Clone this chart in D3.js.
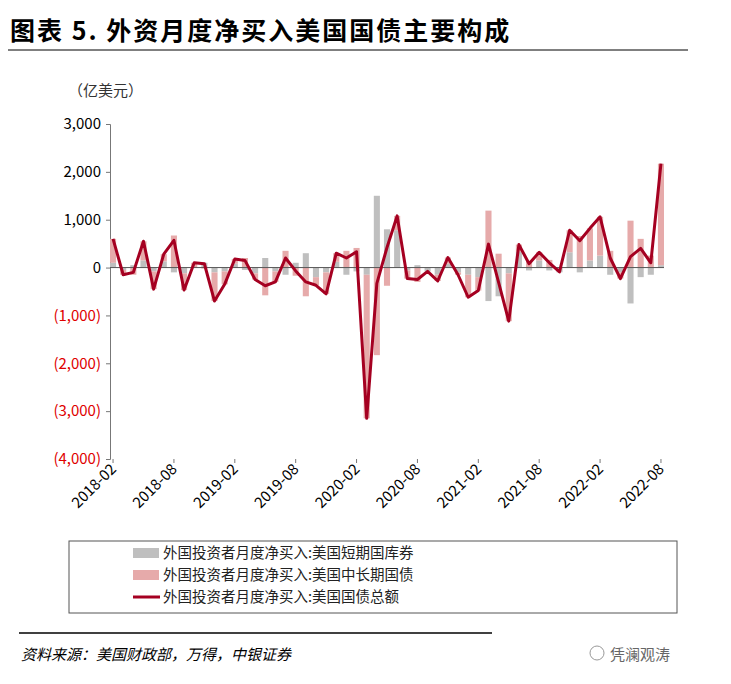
<!DOCTYPE html>
<html>
<head>
<meta charset="utf-8">
<script src="https://cdn.jsdelivr.net/npm/d3@7"></script>
<style>
  body { margin: 0; background: #fff; }
  text { font-family: "Noto Sans CJK SC", "Liberation Serif", serif; }
</style>
</head>
<body>
<svg id="chart" width="731" height="684"></svg>
<script>
// months 2018-02 .. 2022-08
const months = d3.range(55).map(i => {
  const m = 1 + i, y = 2018 + Math.floor(m / 12), mo = (m % 12) + 1;
  return y + '-' + String(mo).padStart(2, '0');
});
const tickLabels = ['2018-02', '2018-08', '2019-02', '2019-08', '2020-02', '2020-08',
  '2021-02', '2021-08', '2022-02', '2022-08'];

// short-term bills (gray)
const shortTerm = [100, -50, 50, 150, -80, 130, -100, -120, 0, 100, -100, -80, 80, -50, -120, 200,
  -80, -150, 100, 300, -200, -100, 120, -150, -80, -150, 1500, 800, 780, -60, 50, -80, -150, 80,
  -100, -150, -200, -700, -600, -120, 330, -60, 150, -60, -100, 320, -100, 150, 250, -150, -100,
  -750, -200, -150, 50];
// long-term notes & bonds (pink)
const longTerm = [500, -100, -150, 400, -370, 150, 670, -350, 100, -20, -600, -270, 100, 200, -130,
  -580, -220, 350, -170, -600, -170, -450, 180, 350, 410, -3000, -1830, -380, 300, -170, -300, 0,
  -130, 130, -50, -470, -280, 1190, 290, -1000, 150, 140, 170, 160, 10, 460, 660, 670, 810, 350,
  -130, 980, 600, 250, 2120];
// total
const total = [600, -150, -100, 550, -450, 280, 570, -470, 100, 80, -700, -350, 180, 150, -250, -380,
  -300, 200, -70, -300, -370, -550, 300, 200, 330, -3150, -330, 420, 1080, -230, -250, -80, -280,
  210, -150, -620, -480, 490, -310, -1120, 480, 80, 320, 100, -90, 780, 560, 820, 1060, 200, -230,
  230, 400, 100, 2170];

const yTicks = [3000, 2000, 1000, 0, -1000, -2000, -3000, -4000];
const legendItems = ['外国投资者月度净买入:美国短期国库券', '外国投资者月度净买入:美国中长期国债',
  '外国投资者月度净买入:美国国债总额'];

const svg = d3.select('#chart');
const red = '#a50021', gray = '#bfbfbf', pink = '#e6aaaa';

svg.append('text').attr('x', 10).attr('y', 40)
  .attr('font-size', 25).attr('font-weight', 'bold').attr('letter-spacing', 2)
  .text('图表 5. 外资月度净买入美国国债主要构成');
svg.append('line').attr('x1', 8).attr('x2', 688).attr('y1', 50).attr('y2', 50)
  .attr('stroke', '#000').attr('stroke-width', 1);
svg.append('text').attr('x', 68).attr('y', 96).attr('font-size', 15).attr('fill', '#333')
  .text('（亿美元）');

const x = d3.scaleBand().domain(months).range([110, 664]).paddingInner(0.4);
const y = d3.scaleLinear().domain([-4000, 3000]).range([459, 124]);
const cx = d => x(d) + x.bandwidth() / 2;

// y axis
const yAxis = svg.append('g').attr('transform', 'translate(110,0)')
  .call(d3.axisLeft(y).tickValues(yTicks).tickSize(4)
    .tickFormat(v => v < 0 ? '(' + d3.format(',')(-v) + ')' : d3.format(',')(v)));
yAxis.select('.domain').attr('stroke', '#777');
yAxis.selectAll('.tick line').attr('stroke', '#777');
yAxis.selectAll('.tick text').attr('font-size', 15).attr('font-family', 'Liberation Sans, Arial')
  .attr('x', -9).attr('fill', v => v < 0 ? '#e00000' : '#000');

// stacked bars
const bars = svg.append('g');
months.forEach((m, i) => {
  let pos = 0, neg = 0;
  [[shortTerm[i], gray], [longTerm[i], pink]].forEach(([v, c]) => {
    let y0;
    if (v >= 0) { y0 = pos; pos += v; } else { y0 = neg; neg += v; }
    const y1 = y0 + v;
    bars.append('rect').attr('x', x(m)).attr('width', x.bandwidth())
      .attr('y', y(Math.max(y0, y1))).attr('height', Math.abs(y(y0) - y(y1))).attr('fill', c);
  });
});

// zero line
svg.append('line').attr('x1', 110).attr('x2', 664).attr('y1', y(0)).attr('y2', y(0))
  .attr('stroke', '#555').attr('stroke-width', 1);

// total line
svg.append('path').datum(total)
  .attr('d', d3.line().x((d, i) => cx(months[i])).y(d => y(d)))
  .attr('fill', 'none').attr('stroke', red).attr('stroke-width', 3).attr('stroke-linejoin', 'round');

// x labels
const xl = svg.append('g');
tickLabels.forEach(t => {
  const px = cx(t);
  xl.append('line').attr('x1', px).attr('x2', px).attr('y1', 459).attr('y2', 463).attr('stroke', '#777');
  xl.append('text').attr('transform', `translate(${px + 4},${470}) rotate(-45)`)
    .attr('text-anchor', 'end').attr('font-size', 15).attr('font-family', 'Liberation Sans, Arial')
    .text(t);
});

// legend
svg.append('rect').attr('x', 69).attr('y', 541).attr('width', 608).attr('height', 72)
  .attr('fill', 'none').attr('stroke', '#555');
legendItems.forEach((t, i) => {
  const ly = 553 + i * 22;
  if (i < 2) svg.append('rect').attr('x', 133).attr('y', ly - 5).attr('width', 26).attr('height', 10)
    .attr('fill', i === 0 ? gray : pink);
  else svg.append('line').attr('x1', 133).attr('x2', 160).attr('y1', ly).attr('y2', ly)
    .attr('stroke', red).attr('stroke-width', 3);
  svg.append('text').attr('x', 163).attr('y', ly + 5).attr('font-size', 14.5).attr('fill', '#222')
    .text(t);
});

// source
svg.append('line').attr('x1', 19).attr('x2', 492).attr('y1', 633).attr('y2', 633)
  .attr('stroke', '#000').attr('stroke-width', 1.5);
svg.append('text').attr('x', 21).attr('y', 660).attr('font-size', 15).attr('font-style', 'italic')
  .text('资料来源：美国财政部，万得，中银证券');
svg.append('text').attr('x', 610).attr('y', 660).attr('font-size', 15).attr('fill', '#666')
  .text('凭澜观涛');
svg.append('circle').attr('cx', 597).attr('cy', 653).attr('r', 7).attr('fill', 'none')
  .attr('stroke', '#999');
</script>
</body>
</html>
